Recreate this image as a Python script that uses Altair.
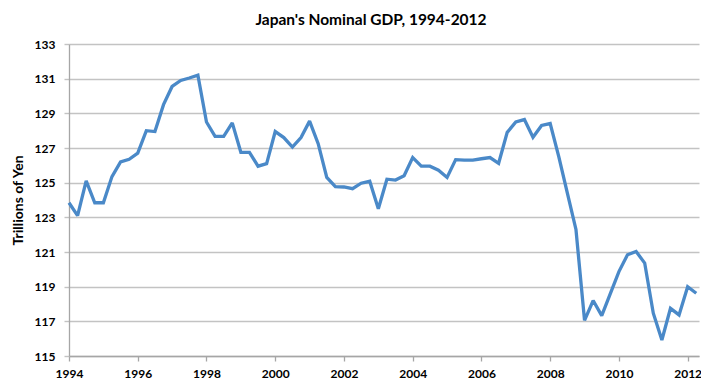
import altair as alt
import pandas as pd

# Quarterly nominal GDP, 1994 Q1 – 2012 Q2 (trillions of yen)
start_year = 1994
gdp = [
    123.84, 123.10, 125.10, 123.84, 123.84, 125.35, 126.20, 126.35, 126.70, 128.00,
    127.95, 129.50, 130.55, 130.90, 131.04, 131.20, 128.50, 127.67, 127.67, 128.45,
    126.75, 126.75, 125.95, 126.10, 127.95, 127.60, 127.05, 127.60, 128.55, 127.25,
    125.30, 124.77, 124.75, 124.65, 124.97, 125.08, 123.50, 125.20, 125.15, 125.40,
    126.45, 125.95, 125.95, 125.72, 125.30, 126.33, 126.30, 126.30, 126.38, 126.45,
    126.12, 127.90, 128.50, 128.64, 127.62, 128.30, 128.41, 126.50, 124.40, 122.30,
    117.05, 118.20, 117.33, 118.60, 119.87, 120.84, 121.03, 120.36, 117.47, 115.92,
    117.75, 117.37, 119.00, 118.62,
]
year_ticks = [1994, 1996, 1998, 2000, 2002, 2004, 2006, 2008, 2010, 2012]
y_ticks = [115, 117, 119, 121, 123, 125, 127, 129, 131, 133]

df = pd.DataFrame({
    "t": [start_year + i / 4 for i in range(len(gdp))],
    "gdp": gdp,
})

FONT = "Lato"

chart = (
    alt.Chart(df)
    .mark_line(color="#4a89c8", strokeWidth=3.3, strokeJoin="miter", strokeMiterLimit=2)
    .encode(
        x=alt.X(
            "t:Q",
            scale=alt.Scale(domain=[1994, 2012.33], nice=False, zero=False),
            axis=alt.Axis(
                values=year_ticks, format="d", title=None, grid=False,
                domainColor="#a6a6a6", domainWidth=1.3, tickColor="#a6a6a6",
                tickSize=5, tickWidth=1.3, labelPadding=7, labelFont=FONT,
                labelFontSize=12, labelFontWeight="bold", labelColor="#000000",
                labelFlush=False,
            ),
        ),
        y=alt.Y(
            "gdp:Q",
            scale=alt.Scale(domain=[115, 133], nice=False, zero=False),
            axis=alt.Axis(
                values=y_ticks, format="d", title="Trillions of Yen",
                grid=True, gridColor="#c3c3c3", gridWidth=1.4,
                domainColor="#a6a6a6", domainWidth=1.3, tickColor="#c3c3c3",
                tickSize=5, tickWidth=1.4, labelPadding=9, labelFont=FONT,
                labelFontSize=12, labelFontWeight="bold", labelColor="#000000",
                titleFont=FONT, titleFontSize=14, titleFontWeight="bold",
                titleColor="#000000", titleX=-44, titleY=156, titleAngle=270,
                titleBaseline="bottom", titleAlign="center",
            ),
        ),
    )
    .properties(
        width=630,
        height=312,
        autosize="none",
        padding={"left": 61, "top": 36, "right": 2, "bottom": 24},
        title=alt.TitleParams(
            "Japan's Nominal GDP, 1994-2012", font=FONT, fontSize=15.5,
            fontWeight="bold", color="#000000", anchor="middle", dx=-13, offset=10,
        ),
    )
    .configure_view(stroke=None)
)

chart.save("out.html", embed_options={"renderer": "svg", "actions": False})
